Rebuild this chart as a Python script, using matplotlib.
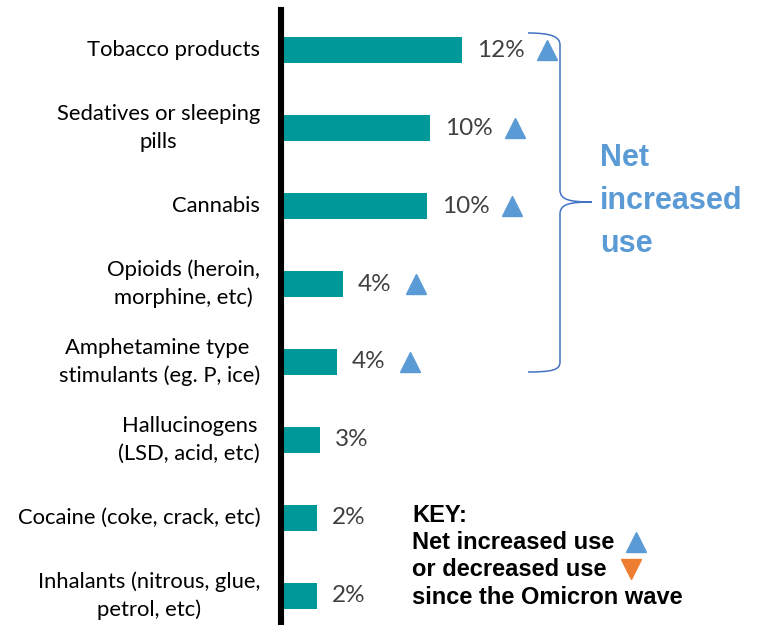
import matplotlib.pyplot as plt
from matplotlib.path import Path
from matplotlib.patches import PathPatch
from matplotlib.transforms import ScaledTranslation

categories = ["Tobacco products", "Sedatives or sleeping\npills", "Cannabis",
              "Opioids (heroin,\nmorphine, etc)", "Amphetamine type \nstimulants (eg. P, ice)",
              "Hallucinogens\n(LSD, acid, etc)", "Cocaine (coke, crack, etc)",
              "Inhalants (nitrous, glue,\npetrol, etc)"]
values = [12.0, 9.9, 9.7, 4.1, 3.7, 2.6, 2.4, 2.4]
labels = ["12%", "10%", "10%", "4%", "4%", "3%", "2%", "2%"]
increased = [True, True, True, True, True, False, False, False]

W, H = 760, 625
teal = "#009999"
blue = "#5B9BD5"
orange = "#ED7D31"

fig = plt.figure(figsize=(W / 100, H / 100), dpi=100)
ax = fig.add_axes([281 / W, 0, 1 - 281 / W, 615 / H])

y = list(range(len(categories)))
ax.barh(y, values, height=0.34, color=teal)
ax.set_xlim(0, (W - 281) / 15.1)
ax.set_ylim(7.372, -0.513)

for s in ["top", "right", "bottom"]:
    ax.spines[s].set_visible(False)
ax.spines["left"].set_linewidth(4.4)
ax.spines["left"].set_color("black")
ax.set_xticks([])
ax.set_yticks(y)
ax.set_yticklabels(categories, fontsize=15.8, family="Lato", color="black",
                   ha="right", va="center", multialignment="center", linespacing=1.45)
ax.tick_params(axis="y", length=0, pad=15)

for i, v in enumerate(values):
    ax.annotate(labels[i], (v, i), xytext=(15, 0), textcoords="offset pixels",
                va="center", ha="left", fontsize=17.5, family="Lato", color="#404040")
    if increased[i]:
        off = 85 if len(labels[i]) == 3 else 73
        shift = ScaledTranslation(off / 100, 0, fig.dpi_scale_trans)
        ax.plot([v], [i], marker="^", markersize=15, color=blue, linestyle="none",
                transform=ax.transData + shift, clip_on=False)


def px(x, yy):
    return (x / W, 1 - yy / H)


verts = [px(528, 33), px(552, 33), px(560, 37), px(560, 45),
         px(560, 190),
         px(560, 200), px(570, 202), px(592, 202),
         px(570, 202), px(560, 204), px(560, 214),
         px(560, 362),
         px(560, 370), px(552, 372), px(528, 372)]
codes = [Path.MOVETO, Path.CURVE4, Path.CURVE4, Path.CURVE4,
         Path.LINETO,
         Path.CURVE4, Path.CURVE4, Path.CURVE4,
         Path.CURVE4, Path.CURVE4, Path.CURVE4,
         Path.LINETO,
         Path.CURVE4, Path.CURVE4, Path.CURVE4]
fig.add_artist(PathPatch(Path(verts, codes), transform=fig.transFigure,
                         facecolor="none", edgecolor="#4472C4", linewidth=1.1))

for k, t in enumerate(["Net", "increased", "use"]):
    fig.text(*px(600, 158 + 43 * k), t, fontsize=22, fontweight="bold",
             family="Liberation Sans", color=blue, va="center", ha="left")

key = ["KEY:", "Net increased use", "or decreased use", "since the Omicron wave"]
for k, t in enumerate(key):
    fig.text(*px(412, 515 + 27.5 * k), t, fontsize=17, fontweight="bold",
             family="Liberation Sans", color="black", va="center", ha="left")
fig.lines.append(plt.Line2D([636 / W], [1 - 542 / H], marker="^", markersize=15,
                            color=blue, transform=fig.transFigure))
fig.lines.append(plt.Line2D([631 / W], [1 - 569 / H], marker="v", markersize=15,
                            color=orange, transform=fig.transFigure))

fig.savefig("out.png", dpi=100)
